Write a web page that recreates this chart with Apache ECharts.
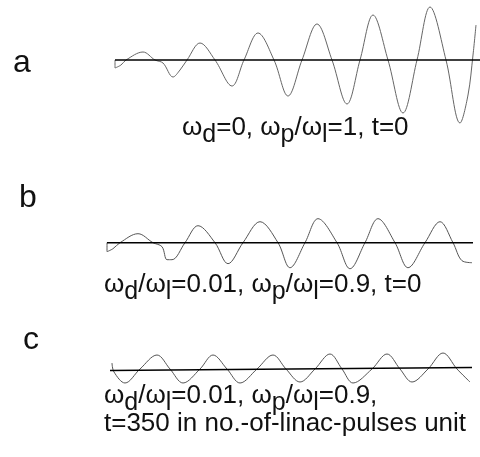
<!DOCTYPE html>
<html><head><meta charset="utf-8">
<script src="https://cdn.jsdelivr.net/npm/echarts@6/dist/echarts.min.js"></script>
<style>html,body{margin:0;padding:0;background:#fff}#c{width:480px;height:457px}</style>
</head><body><div id="c"></div>
<script>
// Panel a: wave amplitude vs position (arbitrary units)
const waveA = [[1.5,0],[1.5,-0.8],[2.1,-0.5],[2.6,0],[4.3,0.8],[5.5,0],[6.3,-0.3],[7.3,-1.7],[8.0,-1.0],[8.7,0],[10.0,1.7],[11.5,0],[13.2,-2.6],[14.4,0],[15.8,2.7],[17.4,0],[18.8,-3.6],[20.2,0],[21.7,3.6],[23.2,0],[24.7,-4.4],[26.0,0],[27.3,4.5],[28.8,0],[30.3,-5.3],[31.7,0],[33.0,5.3],[34.6,0],[36.0,-6.3],[36.8,-3.5],[37.3,0.5],[37.6,3.5]];
const baseA = [[1.5,0],[38,0]];
// Panel b
const waveB = [[0.7,0],[0.7,-0.9],[1.3,-0.6],[2.0,0],[3.8,0.9],[5.3,0],[6.2,-0.4],[6.7,-1.7],[7.2,-1.7],[8.5,0],[9.8,1.7],[11.5,0],[12.8,-2.1],[14.3,0],[16.0,2.1],[17.8,0],[19.0,-2.5],[20.5,0],[21.8,2.4],[23.7,0],[25.0,-2.6],[26.5,0],[27.8,2.4],[29.5,0],[30.8,-2.5],[32.5,0],[34.0,2.1],[35.3,0],[36.2,-1.8],[37.2,-2.0]];
const baseB = [[0.7,0],[37.3,0]];
// Panel c
const waveC = [[1.2,0.6],[1.4,-0.3],[2.5,-1.4],[4.0,0],[5.7,1.4],[7.0,0],[8.3,-1.4],[10.0,0],[11.3,1.4],[12.7,0],[14.0,-1.4],[15.7,0],[17.3,1.4],[18.6,0],[20.0,-1.3],[21.5,0],[23.0,1.5],[24.2,0],[25.3,-1.4],[27.2,0],[28.7,1.5],[30.0,0],[31.2,-1.3],[32.8,0],[34.3,1.6],[35.7,0],[37.0,-1.3]];
const baseC = [[1.0,-0.15],[37.2,0.15]];

const panelLetters = ['a','b','c'];
const captionA = '{n|ω}{s|d}{n|=0, ω}{s|p}{n|/ω}{s|l}{n|=1, t=0}';
const captionB = '{n|ω}{s|d}{n|/ω}{s|l}{n|=0.01, ω}{s|p}{n|/ω}{s|l}{n|=0.9, t=0}';
const captionC1 = '{n|ω}{s|d}{n|/ω}{s|l}{n|=0.01, ω}{s|p}{n|/ω}{s|l}{n|=0.9,}';
const captionC2 = '{n|t=350 in no.-of-linac-pulses unit}';

const FONT = 'Liberation Sans, Arial, Helvetica, sans-serif';
const rich = {
  n: {fontSize: 26, fontFamily: FONT, color: '#111', verticalAlign: 'top'},
  s: {fontSize: 25, fontFamily: FONT, color: '#111', verticalAlign: 'top', padding: [8,0,0,0]}
};
function cap(text, left, top){
  return {text, left, top, padding:0, textStyle:{fontSize:26, fontFamily:FONT, color:'#111', fontWeight:'normal', rich}};
}
function letter(text, left, top){
  return {text, left, top, padding:0, textStyle:{fontSize:32, fontFamily:FONT, color:'#111', fontWeight:'normal'}};
}
const grids = [
  {left:100, width:380, top:0, height:130},
  {left:100, width:380, top:212.7, height:60},
  {left:100, width:380, top:349, height:40}
];
const yr = [[-7,6],[-3,3],[-2,2]];
const xAxis = grids.map((g,i)=>({type:'value', gridIndex:i, min:0, max:38, show:false}));
const yAxis = grids.map((g,i)=>({type:'value', gridIndex:i, min:yr[i][0], max:yr[i][1], show:false}));
function wave(data,i,color){
  return {type:'line', xAxisIndex:i, yAxisIndex:i, data, smooth:0.35, symbol:'none', clip:false,
    lineStyle:{color, width:1}, z:2};
}
function base(data,i){
  return {type:'line', xAxisIndex:i, yAxisIndex:i, data, symbol:'none', clip:false,
    lineStyle:{color:'#000', width:1.6}, z:3};
}
const chart = echarts.init(document.getElementById('c'), null, {renderer:'canvas'});
chart.setOption({
  backgroundColor:'#fff',
  animation:false,
  title:[
    letter(panelLetters[0], 13, 47),
    letter(panelLetters[1], 19, 182),
    letter(panelLetters[2], 23, 324),
    cap(captionA, 182, 115),
    cap(captionB, 104, 272),
    cap(captionC1, 104, 383),
    cap(captionC2, 104, 411)
  ],
  grid: grids,
  xAxis, yAxis,
  series:[
    wave(waveA,0,'#666'), base(baseA,0),
    wave(waveB,1,'#555'), base(baseB,1),
    wave(waveC,2,'#555'), base(baseC,2)
  ]
});
</script></body></html>
